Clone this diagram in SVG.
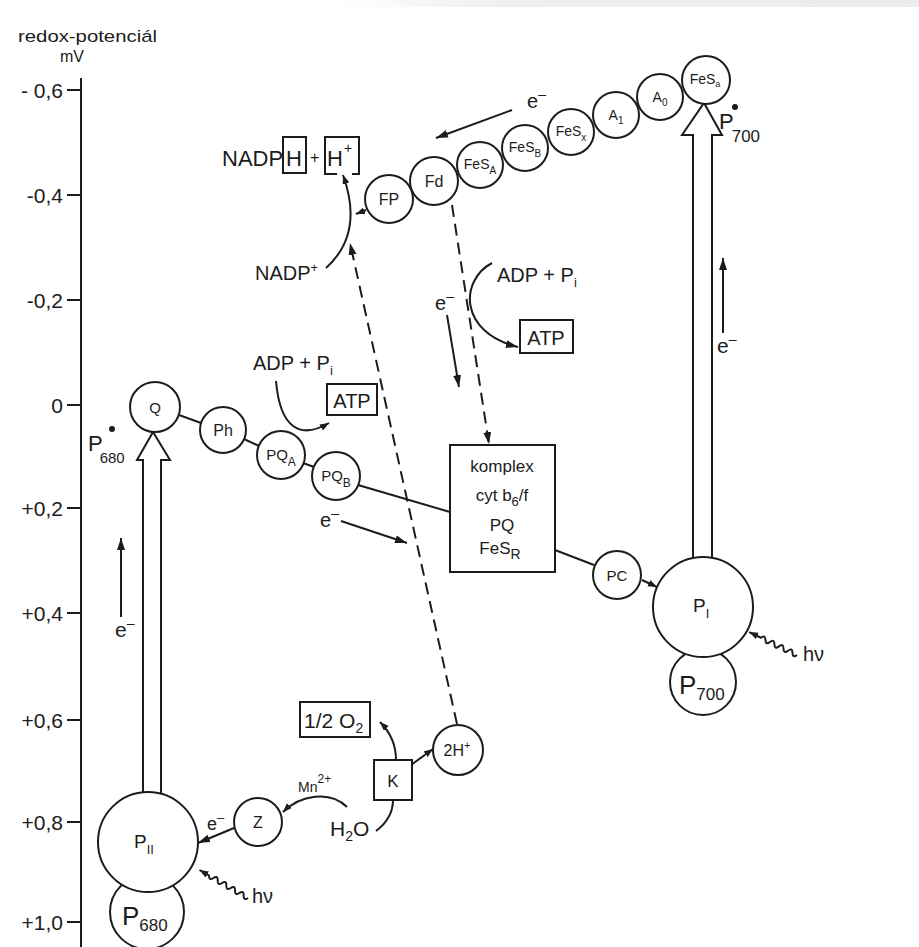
<svg xmlns="http://www.w3.org/2000/svg" width="919" height="947" viewBox="0 0 919 947">
<style>
.ln{stroke:#1c1c1c;stroke-width:2;fill:none}
.nd{stroke:#1c1c1c;stroke-width:2;fill:#fff}
.ds{stroke-dasharray:12 7}
.t{font-family:"Liberation Sans",Arial,sans-serif;fill:#1c1c1c}
.ax{font-size:21px;text-anchor:end}
.c{text-anchor:middle}
</style>
<defs>
<marker id="ah" markerUnits="userSpaceOnUse" markerWidth="14" markerHeight="10" refX="12" refY="4" orient="auto">
<path d="M0,0 L12,4 L0,8 z" fill="#1c1c1c"/>
</marker>
<marker id="ahs" markerUnits="userSpaceOnUse" markerWidth="12" markerHeight="8" refX="9" refY="3.5" orient="auto">
<path d="M0,0 L9,3.5 L0,7 z" fill="#1c1c1c"/>
</marker>
<linearGradient id="band" x1="0" x2="1" y1="0" y2="0">
<stop offset="0" stop-color="#ffffff"/>
<stop offset="0.3" stop-color="#efefef"/>
<stop offset="1" stop-color="#ececec"/>
</linearGradient>
</defs>
<rect x="0" y="0" width="919" height="947" fill="#fff"/>
<rect x="330" y="0" width="589" height="7" fill="url(#band)"/>

<g id="axis">
<text class="t" x="18" y="42" font-size="17" textLength="139" lengthAdjust="spacingAndGlyphs">redox-potenciál</text>
<text class="t" x="60" y="62" font-size="16">mV</text>
<line class="ln" x1="81" y1="78" x2="81" y2="947"/>
<g class="ln">
<line x1="67" y1="90" x2="81" y2="90"/>
<line x1="67" y1="195" x2="81" y2="195"/>
<line x1="67" y1="300" x2="81" y2="300"/>
<line x1="67" y1="405" x2="81" y2="405"/>
<line x1="67" y1="508" x2="81" y2="508"/>
<line x1="67" y1="613" x2="81" y2="613"/>
<line x1="67" y1="720" x2="81" y2="720"/>
<line x1="67" y1="822" x2="81" y2="822"/>
<line x1="67" y1="922" x2="81" y2="922"/>
</g>
<text class="t ax" x="63" y="98">- 0,6</text>
<text class="t ax" x="63" y="203">-0,4</text>
<text class="t ax" x="63" y="308">-0,2</text>
<text class="t ax" x="63" y="413">0</text>
<text class="t ax" x="63" y="516">+0,2</text>
<text class="t ax" x="63" y="621">+0,4</text>
<text class="t ax" x="63" y="728">+0,6</text>
<text class="t ax" x="63" y="830">+0,8</text>
<text class="t ax" x="63" y="930">+1,0</text>
</g>

<g id="connectors">
<line class="ln" x1="179" y1="415" x2="201" y2="423"/>
<line class="ln" x1="244" y1="439" x2="259" y2="446"/>
<line class="ln" x1="303" y1="463" x2="314" y2="467"/>
<line class="ln" x1="358" y1="485" x2="450" y2="512"/>
<line class="ln" x1="555" y1="550" x2="594" y2="565"/>
<line class="ln" x1="642" y1="580" x2="657" y2="587" marker-end="url(#ahs)"/>
<line class="ln ds" x1="452" y1="205" x2="489" y2="444" marker-end="url(#ah)"/>
<line class="ln ds" x1="457" y1="724" x2="350" y2="243" marker-end="url(#ah)"/>
<path class="ln" d="M326,268 C346,250 360,222 343,175" marker-end="url(#ahs)"/>
<line class="ln" x1="366" y1="210" x2="356" y2="214" marker-end="url(#ahs)"/>
<path class="ln" d="M276,381 C280,428 300,440 329,423" marker-end="url(#ahs)"/>
<path class="ln" d="M492,263 C460,280 458,332 518,347" marker-end="url(#ah)"/>
<line class="ln" x1="447" y1="315" x2="459" y2="387" marker-end="url(#ah)"/>
<line class="ln" x1="341" y1="521" x2="407" y2="543" marker-end="url(#ah)"/>
<line class="ln" x1="512" y1="110" x2="436" y2="138" marker-end="url(#ah)"/>
<line class="ln" x1="121" y1="617" x2="121" y2="538" marker-end="url(#ah)"/>
<line class="ln" x1="723" y1="333" x2="723" y2="258" marker-end="url(#ah)"/>
<line class="ln" x1="234" y1="828" x2="198" y2="843" marker-end="url(#ah)"/>
<path class="ln" d="M347,807 C330,790 300,795 283,812" marker-end="url(#ahs)"/>
<path class="ln" d="M376,831 C388,822 393,812 393,800"/>
<path class="ln" d="M396,760 C396,745 391,733 380,722" marker-end="url(#ahs)"/>
<line class="ln" x1="411" y1="765" x2="433" y2="749" marker-end="url(#ahs)"/>
<path class="ln" d="M0,0 q2.5,-5 5,0 t5,0 t5,0 t5,0 t5,0 t5,0 t5,0 t5,0 t5,0 l11,0" transform="translate(248,898) rotate(210)" marker-end="url(#ahs)"/>
<path class="ln" d="M0,0 q2.5,-5 5,0 t5,0 t5,0 t5,0 t5,0 t5,0 t5,0 t5,0 l13,0" transform="translate(797,655) rotate(205.6)" marker-end="url(#ahs)"/>
</g>

<g id="arrow-psii">
<path class="nd" d="M143,793 V460 H137 L153,432 L170,460 H161 V793"/>
</g>
<g id="arrow-psi">
<path class="nd" d="M693,558 V135 H682 L704,103 L722,135 H712 V558"/>
</g>

<g id="P680">
<circle class="nd" cx="147" cy="912" r="37"/>
<text class="t" x="122" y="925" font-size="26">P<tspan font-size="17" dy="6">680</tspan></text>
</g>
<g id="PII">
<circle class="nd" cx="148" cy="842" r="50"/>
<text class="t" x="134" y="848" font-size="19">P<tspan font-size="13" dy="6">II</tspan></text>
</g>
<g id="P700">
<circle class="nd" cx="703" cy="682" r="33"/>
<text class="t" x="679" y="694" font-size="26">P<tspan font-size="17" dy="6">700</tspan></text>
</g>
<g id="PI">
<circle class="nd" cx="703" cy="607" r="50"/>
<text class="t" x="693" y="612" font-size="19">P<tspan font-size="13" dy="6">I</tspan></text>
</g>
<g id="Q"><circle class="nd" cx="155" cy="407" r="25"/><text class="t c" x="155" y="413" font-size="15">Q</text></g>
<g id="Ph"><circle class="nd" cx="223" cy="430" r="23"/><text class="t c" x="223" y="436" font-size="16">Ph</text></g>
<g id="PQA"><circle class="nd" cx="281" cy="455" r="24"/><text class="t c" x="281" y="460" font-size="15">PQ<tspan font-size="12" dy="6">A</tspan></text></g>
<g id="PQB"><circle class="nd" cx="336" cy="476" r="24"/><text class="t c" x="336" y="481" font-size="15">PQ<tspan font-size="12" dy="6">B</tspan></text></g>
<g id="Z"><circle class="nd" cx="258" cy="822" r="24"/><text class="t c" x="258" y="828" font-size="16">Z</text></g>
<g id="H2plus"><circle class="nd" cx="458" cy="750" r="25"/><text class="t c" x="457" y="756" font-size="16">2H<tspan font-size="11" dy="-7">+</tspan></text></g>
<g id="PC"><circle class="nd" cx="617" cy="575" r="24"/><text class="t c" x="617" y="581" font-size="15">PC</text></g>

<g id="FP"><circle class="nd" cx="389" cy="199" r="24"/><text class="t c" x="389" y="205" font-size="16">FP</text></g>
<g id="Fd"><circle class="nd" cx="434" cy="181" r="24"/><text class="t c" x="434" y="187" font-size="16">Fd</text></g>
<g id="FeSA"><circle class="nd" cx="480" cy="165" r="23"/><text class="t c" x="480" y="169" font-size="14">FeS<tspan font-size="10" dy="5">A</tspan></text></g>
<g id="FeSB"><circle class="nd" cx="525" cy="148" r="23"/><text class="t c" x="525" y="152" font-size="14">FeS<tspan font-size="10" dy="5">B</tspan></text></g>
<g id="FeSX"><circle class="nd" cx="571" cy="132" r="23"/><text class="t c" x="571" y="136" font-size="14">FeS<tspan font-size="10" dy="5">x</tspan></text></g>
<g id="A1"><circle class="nd" cx="616" cy="115" r="23"/><text class="t c" x="616" y="120" font-size="14">A<tspan font-size="10" dy="4">1</tspan></text></g>
<g id="A0"><circle class="nd" cx="660" cy="97" r="23"/><text class="t c" x="660" y="102" font-size="14">A<tspan font-size="10" dy="4">0</tspan></text></g>
<g id="FeSa"><circle class="nd" cx="706" cy="80" r="24"/><text class="t c" x="705" y="84" font-size="14">FeS<tspan font-size="9" dy="3">a</tspan></text></g>

<g id="complex">
<rect class="nd" x="450" y="445" width="105" height="127"/>
<text class="t c" x="502" y="472" font-size="17">komplex</text>
<text class="t c" x="502" y="501" font-size="17">cyt b<tspan font-size="13" dy="5">6</tspan><tspan dy="-5">/f</tspan></text>
<text class="t c" x="502" y="531" font-size="17">PQ</text>
<text class="t c" x="500" y="554" font-size="17">FeS<tspan font-size="14" dy="5">R</tspan></text>
</g>

<g id="K">
<rect class="nd" x="374" y="760" width="38" height="40"/>
<text class="t c" x="393" y="787" font-size="17">K</text>
</g>
<g id="O2">
<rect class="nd" x="300" y="702" width="70" height="35"/>
<text class="t" x="304" y="728" font-size="21">1/2 O<tspan font-size="14" dy="5">2</tspan></text>
</g>
<g id="H2O">
<text class="t" x="330" y="836" font-size="21">H<tspan font-size="14" dy="5">2</tspan><tspan dy="-5">O</tspan></text>
</g>
<g id="Mn">
<text class="t" x="298" y="792" font-size="14">Mn<tspan font-size="12" dy="-9">2+</tspan></text>
</g>

<g id="ATP1">
<rect class="nd" x="327" y="384" width="50" height="31"/>
<text class="t c" x="352" y="408" font-size="20">ATP</text>
</g>
<text class="t" x="253" y="370" font-size="20">ADP + P<tspan font-size="13" dy="5">i</tspan></text>

<g id="ATP2">
<rect class="nd" x="520" y="320" width="53" height="33"/>
<text class="t c" x="546" y="345" font-size="20">ATP</text>
</g>
<text class="t" x="497" y="282" font-size="20">ADP + P<tspan font-size="13" dy="5">i</tspan></text>

<g id="NADPH">
<text class="t" x="222" y="166" font-size="22">NADP</text>
<rect class="ln" x="283" y="137" width="23" height="36"/>
<text class="t" x="286" y="166" font-size="22">H</text>
<text class="t" x="310" y="163" font-size="16">+</text>
<path class="ln" d="M337,174 H325 V137 H359 V174 H352"/>
<text class="t" x="327" y="166" font-size="22">H</text>
<text class="t" x="344" y="153" font-size="14">+</text>
</g>
<text class="t" x="255" y="280" font-size="20">NADP<tspan font-size="13" dy="-8">+</tspan></text>

<text class="t" x="88" y="451" font-size="22">P<tspan font-size="15" dx="-3" dy="12">680</tspan></text>
<circle cx="112" cy="429" r="3" fill="#1c1c1c"/>

<text class="t" x="719" y="129" font-size="22">P<tspan font-size="17" dx="-2" dy="13">700</tspan></text>
<circle cx="735" cy="107" r="3" fill="#1c1c1c"/>

<text class="t" x="115" y="637" font-size="21">e<tspan font-size="14" dy="-9">–</tspan></text>
<text class="t" x="717" y="353" font-size="21">e<tspan font-size="14" dy="-9">–</tspan></text>
<text class="t" x="435" y="310" font-size="20">e<tspan font-size="14" dy="-9">–</tspan></text>
<text class="t" x="527" y="108" font-size="20">e<tspan font-size="14" dy="-9">–</tspan></text>
<text class="t" x="320" y="527" font-size="20">e<tspan font-size="14" dy="-9">–</tspan></text>
<text class="t" x="207" y="830" font-size="18">e<tspan font-size="13" dy="-8">–</tspan></text>
<text class="t" x="252" y="903" font-size="20">hν</text>
<text class="t" x="803" y="661" font-size="20">hν</text>
</svg>
